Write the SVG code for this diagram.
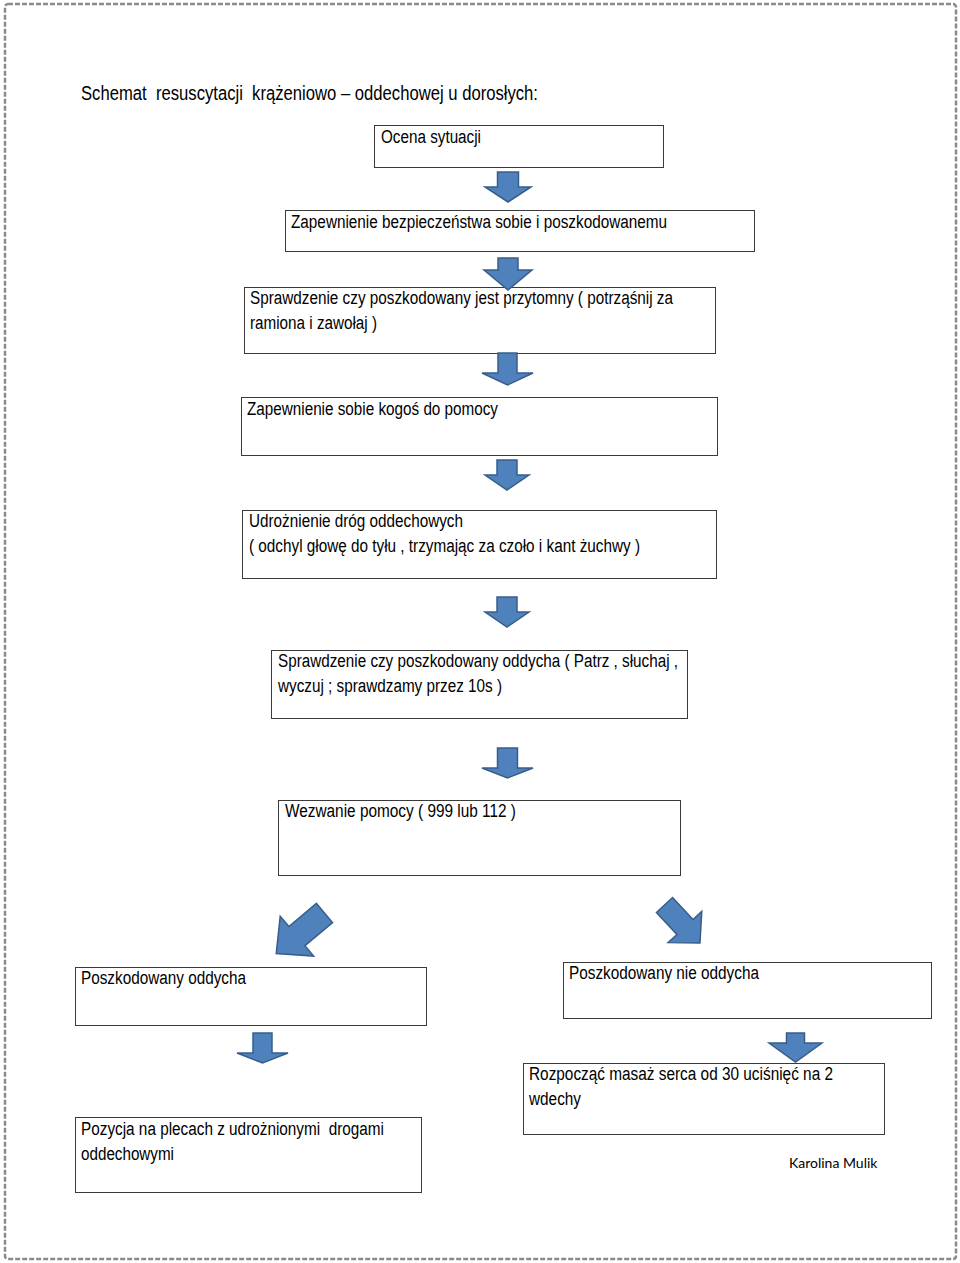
<svg xmlns="http://www.w3.org/2000/svg" width="960" height="1263" viewBox="0 0 960 1263" xml:space="preserve">
<defs>
<style>
.box{fill:#fff;stroke:#3a3a3a;stroke-width:1}
.t{font-family:"Liberation Sans Narrow","Arial Narrow","Liberation Sans",Arial,sans-serif;font-size:18px;fill:#000;white-space:pre}
.title{font-size:19.5px}
.arr{fill:#4f81bd;stroke:#385d8a;stroke-width:1.5;stroke-linejoin:miter}
.sig{font-family:Lato,"Open Sans","Liberation Sans",sans-serif;font-size:14px;fill:#000}
</style>
</defs>
<rect width="960" height="1263" fill="#fff"/>
<rect x="5" y="4" width="951" height="1255" rx="3" fill="none" stroke="#8a8a8a" stroke-width="2.5" stroke-dasharray="5 2"/>
<text class="t title" x="81" y="100" textLength="457" lengthAdjust="spacingAndGlyphs">Schemat  resuscytacji  krążeniowo – oddechowej u dorosłych:</text>

<g id="n1"><rect class="box" x="374.5" y="125.5" width="289" height="42"/><text class="t" x="381" y="143" textLength="100" lengthAdjust="spacingAndGlyphs">Ocena sytuacji</text></g>
<g id="n2"><rect class="box" x="285.5" y="210.5" width="469" height="41"/><text class="t" x="291" y="228" textLength="376" lengthAdjust="spacingAndGlyphs">Zapewnienie bezpieczeństwa sobie i poszkodowanemu</text></g>
<g id="n3"><rect class="box" x="244.5" y="287.5" width="471" height="66"/><text class="t" x="250" y="304" textLength="423" lengthAdjust="spacingAndGlyphs">Sprawdzenie czy poszkodowany jest przytomny ( potrząśnij za</text><text class="t" x="250" y="329" textLength="127" lengthAdjust="spacingAndGlyphs">ramiona i zawołaj )</text></g>
<g id="n4"><rect class="box" x="241.5" y="397.5" width="476" height="58"/><text class="t" x="247" y="415" textLength="251" lengthAdjust="spacingAndGlyphs">Zapewnienie sobie kogoś do pomocy</text></g>
<g id="n5"><rect class="box" x="242.5" y="510.5" width="474" height="68"/><text class="t" x="249" y="527" textLength="214" lengthAdjust="spacingAndGlyphs">Udrożnienie dróg oddechowych</text><text class="t" x="249" y="552" textLength="391" lengthAdjust="spacingAndGlyphs">( odchyl głowę do tyłu , trzymając za czoło i kant żuchwy )</text></g>
<g id="n6"><rect class="box" x="271.5" y="650.5" width="416" height="68"/><text class="t" x="278" y="667" textLength="400" lengthAdjust="spacingAndGlyphs">Sprawdzenie czy poszkodowany oddycha ( Patrz , słuchaj ,</text><text class="t" x="278" y="692" textLength="224" lengthAdjust="spacingAndGlyphs">wyczuj ; sprawdzamy przez 10s )</text></g>
<g id="n7"><rect class="box" x="278.5" y="800.5" width="402" height="75"/><text class="t" x="285" y="817" textLength="231" lengthAdjust="spacingAndGlyphs">Wezwanie pomocy ( 999 lub 112 )</text></g>
<g id="n8"><rect class="box" x="75.5" y="967.5" width="351" height="58"/><text class="t" x="81" y="984" textLength="165" lengthAdjust="spacingAndGlyphs">Poszkodowany oddycha</text></g>
<g id="n9"><rect class="box" x="563.5" y="962.5" width="368" height="56"/><text class="t" x="569" y="979" textLength="190" lengthAdjust="spacingAndGlyphs">Poszkodowany nie oddycha</text></g>
<g id="n10"><rect class="box" x="75.5" y="1117.5" width="346" height="75"/><text class="t" x="81" y="1135" textLength="303" lengthAdjust="spacingAndGlyphs">Pozycja na plecach z udrożnionymi  drogami</text><text class="t" x="81" y="1160" textLength="93" lengthAdjust="spacingAndGlyphs">oddechowymi</text></g>
<g id="n11"><rect class="box" x="523.5" y="1063.5" width="361" height="71"/><text class="t" x="529" y="1080" textLength="304" lengthAdjust="spacingAndGlyphs">Rozpocząć masaż serca od 30 uciśnięć na 2</text><text class="t" x="529" y="1105" textLength="52" lengthAdjust="spacingAndGlyphs">wdechy</text></g>
<text class="sig" x="789" y="1168">Karolina Mulik</text>

<g id="connectors">
<path class="arr" d="M497.5,172 L518.5,172 L518.5,187 L531,187 L508,202 L485,187 L497.5,187 Z"/>
<path class="arr" d="M498,258 L518,258 L518,270 L532,270 L508,290 L484,270 L498,270 Z"/>
<path class="arr" d="M498,353 L517,353 L517,373 L533,373 L507.5,385 L482,373 L498,373 Z"/>
<path class="arr" d="M497,460 L517,460 L517,475 L529,475 L507,490 L485,475 L497,475 Z"/>
<path class="arr" d="M497,597 L517,597 L517,612 L529,612 L507,627 L485,612 L497,612 Z"/>
<path class="arr" d="M497.5,748 L517.5,748 L517.5,768 L533,768 L507.5,778 L482,768 L497.5,768 Z"/>
<path class="arr" transform="translate(324.5,913) rotate(50)" d="M-12.5,0 L12.5,0 L12.5,36 L26,36 L0,63 L-26,36 L-12.5,36 Z"/>
<path class="arr" transform="translate(664.5,905) rotate(-43)" d="M-11,0 L11,0 L11,30 L23,30 L0,52 L-23,30 L-11,30 Z"/>
<path class="arr" d="M253,1033 L272,1033 L272,1053 L288,1053 L262.5,1063 L237,1053 L253,1053 Z"/>
<path class="arr" d="M786.5,1033 L804.5,1033 L804.5,1043 L822,1043 L795.5,1062 L769,1043 L786.5,1043 Z"/>
</g>
</svg>
